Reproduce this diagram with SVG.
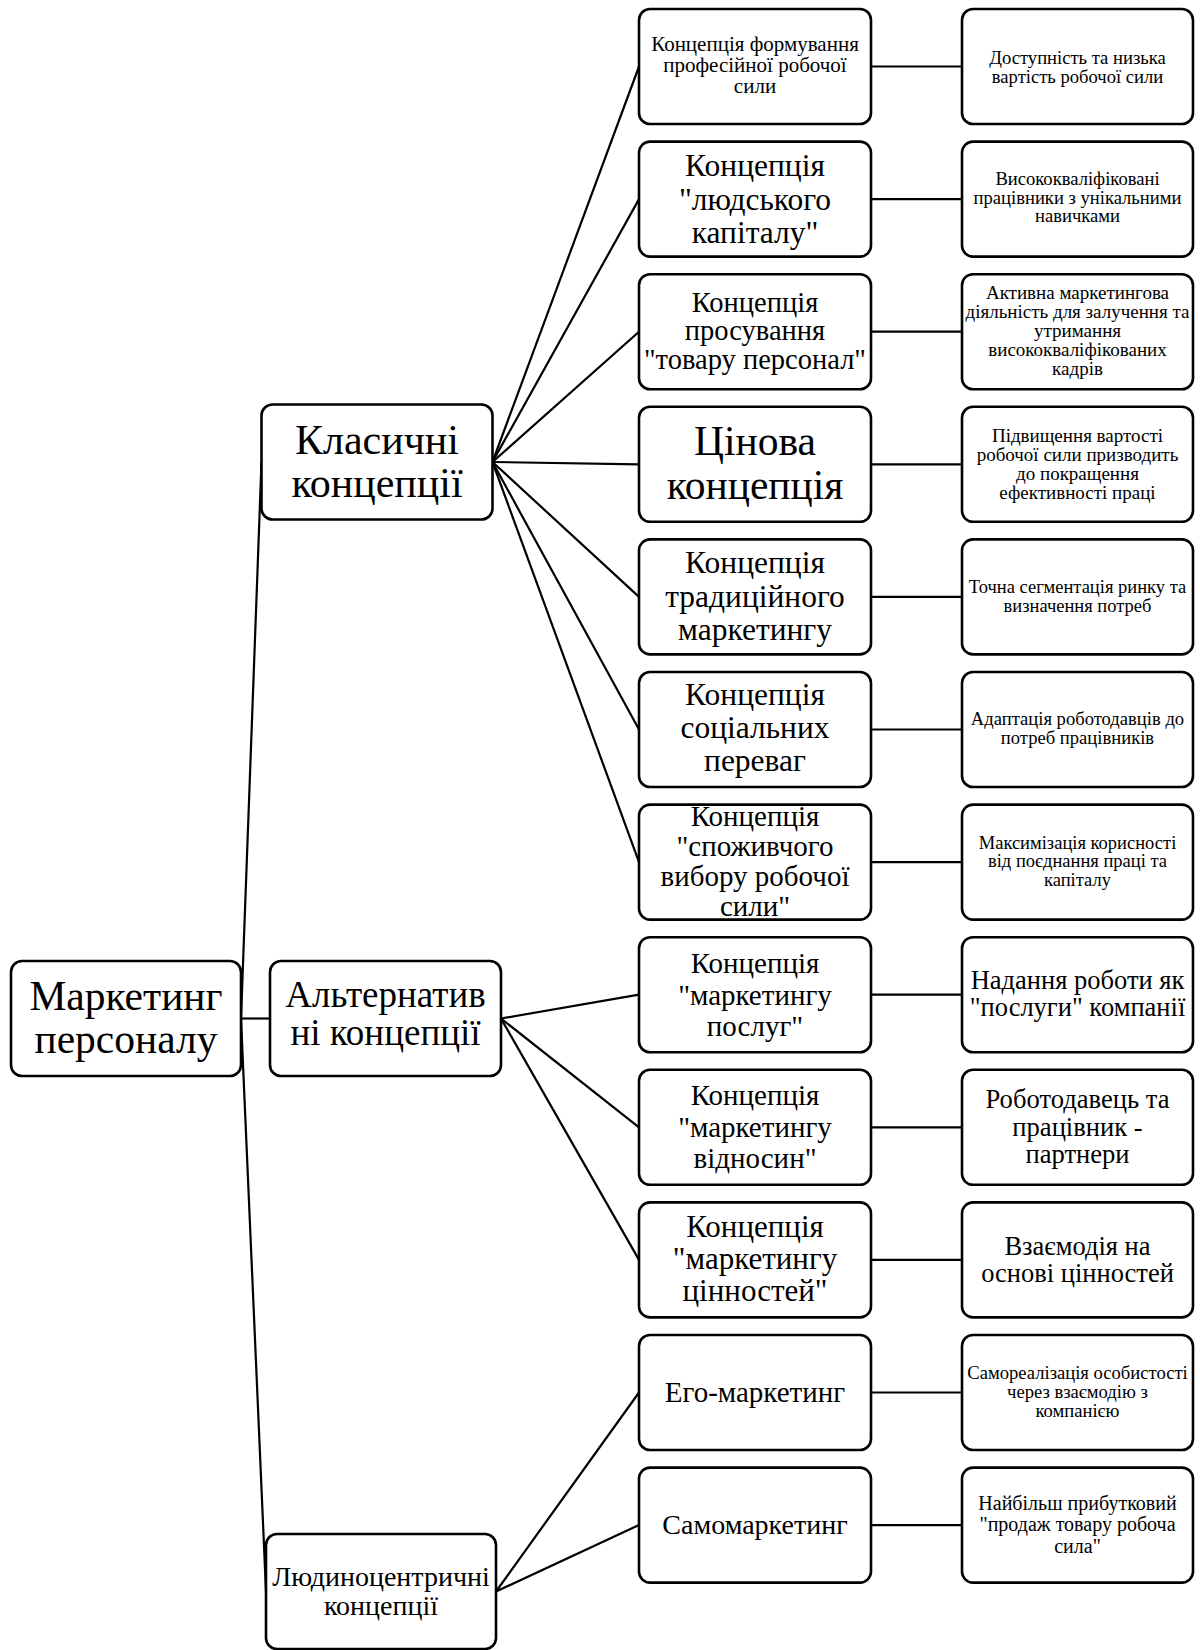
<svg xmlns="http://www.w3.org/2000/svg" width="1200" height="1650" viewBox="0 0 1200 1650">
<style>
.box{fill:#fff;stroke:#000;stroke-width:2.6}
.c{stroke:#000;stroke-width:2.2;fill:none}
text{font-family:"Liberation Serif","Times New Roman",serif;text-anchor:middle;fill:#000}
</style>
<rect width="1200" height="1650" fill="#fff"/>
<g id="connectors">
<line class="c" x1="241" y1="1018.5" x2="261.5" y2="462"/>
<line class="c" x1="241" y1="1018.5" x2="270" y2="1018.5"/>
<line class="c" x1="241" y1="1018.5" x2="266" y2="1591.5"/>
<line class="c" x1="492.5" y1="462" x2="639" y2="66.5"/>
<line class="c" x1="492.5" y1="462" x2="639" y2="199.1"/>
<line class="c" x1="492.5" y1="462" x2="639" y2="331.7"/>
<line class="c" x1="492.5" y1="462" x2="639" y2="464.3"/>
<line class="c" x1="492.5" y1="462" x2="639" y2="596.9"/>
<line class="c" x1="492.5" y1="462" x2="639" y2="729.5"/>
<line class="c" x1="492.5" y1="462" x2="639" y2="862.1"/>
<line class="c" x1="501" y1="1018.5" x2="639" y2="994.7"/>
<line class="c" x1="501" y1="1018.5" x2="639" y2="1127.3"/>
<line class="c" x1="501" y1="1018.5" x2="639" y2="1259.9"/>
<line class="c" x1="496" y1="1591.5" x2="639" y2="1392.5"/>
<line class="c" x1="496" y1="1591.5" x2="639" y2="1525.1"/>
<line class="c" x1="871" y1="66.5" x2="962" y2="66.5"/>
<line class="c" x1="871" y1="199.1" x2="962" y2="199.1"/>
<line class="c" x1="871" y1="331.7" x2="962" y2="331.7"/>
<line class="c" x1="871" y1="464.3" x2="962" y2="464.3"/>
<line class="c" x1="871" y1="596.9" x2="962" y2="596.9"/>
<line class="c" x1="871" y1="729.5" x2="962" y2="729.5"/>
<line class="c" x1="871" y1="862.1" x2="962" y2="862.1"/>
<line class="c" x1="871" y1="994.7" x2="962" y2="994.7"/>
<line class="c" x1="871" y1="1127.3" x2="962" y2="1127.3"/>
<line class="c" x1="871" y1="1259.9" x2="962" y2="1259.9"/>
<line class="c" x1="871" y1="1392.5" x2="962" y2="1392.5"/>
<line class="c" x1="871" y1="1525.1" x2="962" y2="1525.1"/>
</g>
<g id="root">
<rect class="box" x="11" y="961" width="230" height="115" rx="11"/>
<text font-size="41.5"><tspan x="126" y="1009.5">Маркетинг</tspan><tspan x="126" y="1052.5">персоналу</tspan></text>
</g>
<g id="classic">
<rect class="box" x="261.5" y="404.5" width="231" height="115" rx="11"/>
<text font-size="42"><tspan x="377" y="454">Класичні</tspan><tspan x="377" y="496.5">концепції</tspan></text>
</g>
<g id="alternative">
<rect class="box" x="270" y="961" width="231" height="115" rx="11"/>
<text font-size="37"><tspan x="385.5" y="1006.5">Альтернатив</tspan><tspan x="385.5" y="1044.5">ні концепції</tspan></text>
</g>
<g id="humancentric">
<rect class="box" x="266" y="1534" width="230" height="115" rx="11"/>
<text font-size="28"><tspan x="381" y="1585.5">Людиноцентричні</tspan><tspan x="381" y="1615">концепції</tspan></text>
</g>
<g id="c2-0">
<rect class="box" x="639" y="9" width="232" height="115" rx="11"/>
<text font-size="21"><tspan x="755" y="51">Концепція формування</tspan><tspan x="755" y="72">професійної робочої</tspan><tspan x="755" y="93">сили</tspan></text>
</g>
<g id="c2-1">
<rect class="box" x="639" y="141.6" width="232" height="115" rx="11"/>
<text font-size="31.5"><tspan x="755" y="176">Концепція</tspan><tspan x="755" y="209.5">"людського</tspan><tspan x="755" y="243">капіталу"</tspan></text>
</g>
<g id="c2-2">
<rect class="box" x="639" y="274.2" width="232" height="115" rx="11"/>
<text font-size="28.5"><tspan x="755" y="311.8">Концепція</tspan><tspan x="755" y="340.3">просування</tspan><tspan x="755" y="368.8">"товару персонал"</tspan></text>
</g>
<g id="c2-3">
<rect class="box" x="639" y="406.8" width="232" height="115" rx="11"/>
<text font-size="41.5"><tspan x="755" y="454.5">Цінова</tspan><tspan x="755" y="498.5">концепція</tspan></text>
</g>
<g id="c2-4">
<rect class="box" x="639" y="539.4" width="232" height="115" rx="11"/>
<text font-size="31.5"><tspan x="755" y="573">Концепція</tspan><tspan x="755" y="606.5">традиційного</tspan><tspan x="755" y="640">маркетингу</tspan></text>
</g>
<g id="c2-5">
<rect class="box" x="639" y="672" width="232" height="115" rx="11"/>
<text font-size="31.5"><tspan x="755" y="705">Концепція</tspan><tspan x="755" y="738">соціальних</tspan><tspan x="755" y="771">переваг</tspan></text>
</g>
<g id="c2-6">
<rect class="box" x="639" y="804.6" width="232" height="115" rx="11"/>
<text font-size="29"><tspan x="755" y="825.5">Концепція</tspan><tspan x="755" y="855.5">"споживчого</tspan><tspan x="755" y="885.5">вибору робочої</tspan><tspan x="755" y="915.5">сили"</tspan></text>
</g>
<g id="c2-7">
<rect class="box" x="639" y="937.2" width="232" height="115" rx="11"/>
<text font-size="29"><tspan x="755" y="973">Концепція</tspan><tspan x="755" y="1004.5">"маркетингу</tspan><tspan x="755" y="1036">послуг"</tspan></text>
</g>
<g id="c2-8">
<rect class="box" x="639" y="1069.8" width="232" height="115" rx="11"/>
<text font-size="29"><tspan x="755" y="1105">Концепція</tspan><tspan x="755" y="1136.5">"маркетингу</tspan><tspan x="755" y="1168">відносин"</tspan></text>
</g>
<g id="c2-9">
<rect class="box" x="639" y="1202.4" width="232" height="115" rx="11"/>
<text font-size="31"><tspan x="755" y="1236.5">Концепція</tspan><tspan x="755" y="1268.5">"маркетингу</tspan><tspan x="755" y="1300.5">цінностей"</tspan></text>
</g>
<g id="c2-10">
<rect class="box" x="639" y="1335" width="232" height="115" rx="11"/>
<text font-size="29" x="755" y="1401.5">Его-маркетинг</text>
</g>
<g id="c2-11">
<rect class="box" x="639" y="1467.6" width="232" height="115" rx="11"/>
<text font-size="28" x="755" y="1533.5">Самомаркетинг</text>
</g>
<g id="c3-0">
<rect class="box" x="962" y="9" width="231" height="115" rx="11"/>
<text font-size="18.6"><tspan x="1077.5" y="64">Доступність та низька</tspan><tspan x="1077.5" y="82.8">вартість робочої сили</tspan></text>
</g>
<g id="c3-1">
<rect class="box" x="962" y="141.6" width="231" height="115" rx="11"/>
<text font-size="18.6"><tspan x="1077.5" y="185">Висококваліфіковані</tspan><tspan x="1077.5" y="203.5">працівники з унікальними</tspan><tspan x="1077.5" y="222">навичками</tspan></text>
</g>
<g id="c3-2">
<rect class="box" x="962" y="274.2" width="231" height="115" rx="11"/>
<text font-size="19"><tspan x="1077.5" y="299">Активна маркетингова</tspan><tspan x="1077.5" y="318">діяльність для залучення та</tspan><tspan x="1077.5" y="337">утримання</tspan><tspan x="1077.5" y="356">висококваліфікованих</tspan><tspan x="1077.5" y="375">кадрів</tspan></text>
</g>
<g id="c3-3">
<rect class="box" x="962" y="406.8" width="231" height="115" rx="11"/>
<text font-size="19"><tspan x="1077.5" y="441.5">Підвищення вартості</tspan><tspan x="1077.5" y="460.5">робочої сили призводить</tspan><tspan x="1077.5" y="479.5">до покращення</tspan><tspan x="1077.5" y="498.5">ефективності праці</tspan></text>
</g>
<g id="c3-4">
<rect class="box" x="962" y="539.4" width="231" height="115" rx="11"/>
<text font-size="18.5"><tspan x="1077.5" y="592.5">Точна сегментація ринку та</tspan><tspan x="1077.5" y="611.5">визначення потреб</tspan></text>
</g>
<g id="c3-5">
<rect class="box" x="962" y="672" width="231" height="115" rx="11"/>
<text font-size="18.6"><tspan x="1077.5" y="725.3">Адаптація роботодавців до</tspan><tspan x="1077.5" y="744">потреб працівників</tspan></text>
</g>
<g id="c3-6">
<rect class="box" x="962" y="804.6" width="231" height="115" rx="11"/>
<text font-size="18.5"><tspan x="1077.5" y="848.5">Максимізація корисності</tspan><tspan x="1077.5" y="867">від поєднання праці та</tspan><tspan x="1077.5" y="885.5">капіталу</tspan></text>
</g>
<g id="c3-7">
<rect class="box" x="962" y="937.2" width="231" height="115" rx="11"/>
<text font-size="26.5"><tspan x="1077.5" y="989.3">Надання роботи як</tspan><tspan x="1077.5" y="1016.3">"послуги" компанії</tspan></text>
</g>
<g id="c3-8">
<rect class="box" x="962" y="1069.8" width="231" height="115" rx="11"/>
<text font-size="26.6"><tspan x="1077.5" y="1108">Роботодавець та</tspan><tspan x="1077.5" y="1135.5">працівник -</tspan><tspan x="1077.5" y="1163">партнери</tspan></text>
</g>
<g id="c3-9">
<rect class="box" x="962" y="1202.4" width="231" height="115" rx="11"/>
<text font-size="26.5"><tspan x="1077.5" y="1254.5">Взаємодія на</tspan><tspan x="1077.5" y="1281.5">основі цінностей</tspan></text>
</g>
<g id="c3-10">
<rect class="box" x="962" y="1335" width="231" height="115" rx="11"/>
<text font-size="18.6"><tspan x="1077.5" y="1379.2">Самореалізація особистості</tspan><tspan x="1077.5" y="1398.2">через взаємодію з</tspan><tspan x="1077.5" y="1417.2">компанією</tspan></text>
</g>
<g id="c3-11">
<rect class="box" x="962" y="1467.6" width="231" height="115" rx="11"/>
<text font-size="20"><tspan x="1077.5" y="1509.5">Найбільш прибутковий</tspan><tspan x="1077.5" y="1531">"продаж товару робоча</tspan><tspan x="1077.5" y="1552.5">сила"</tspan></text>
</g>
</svg>
